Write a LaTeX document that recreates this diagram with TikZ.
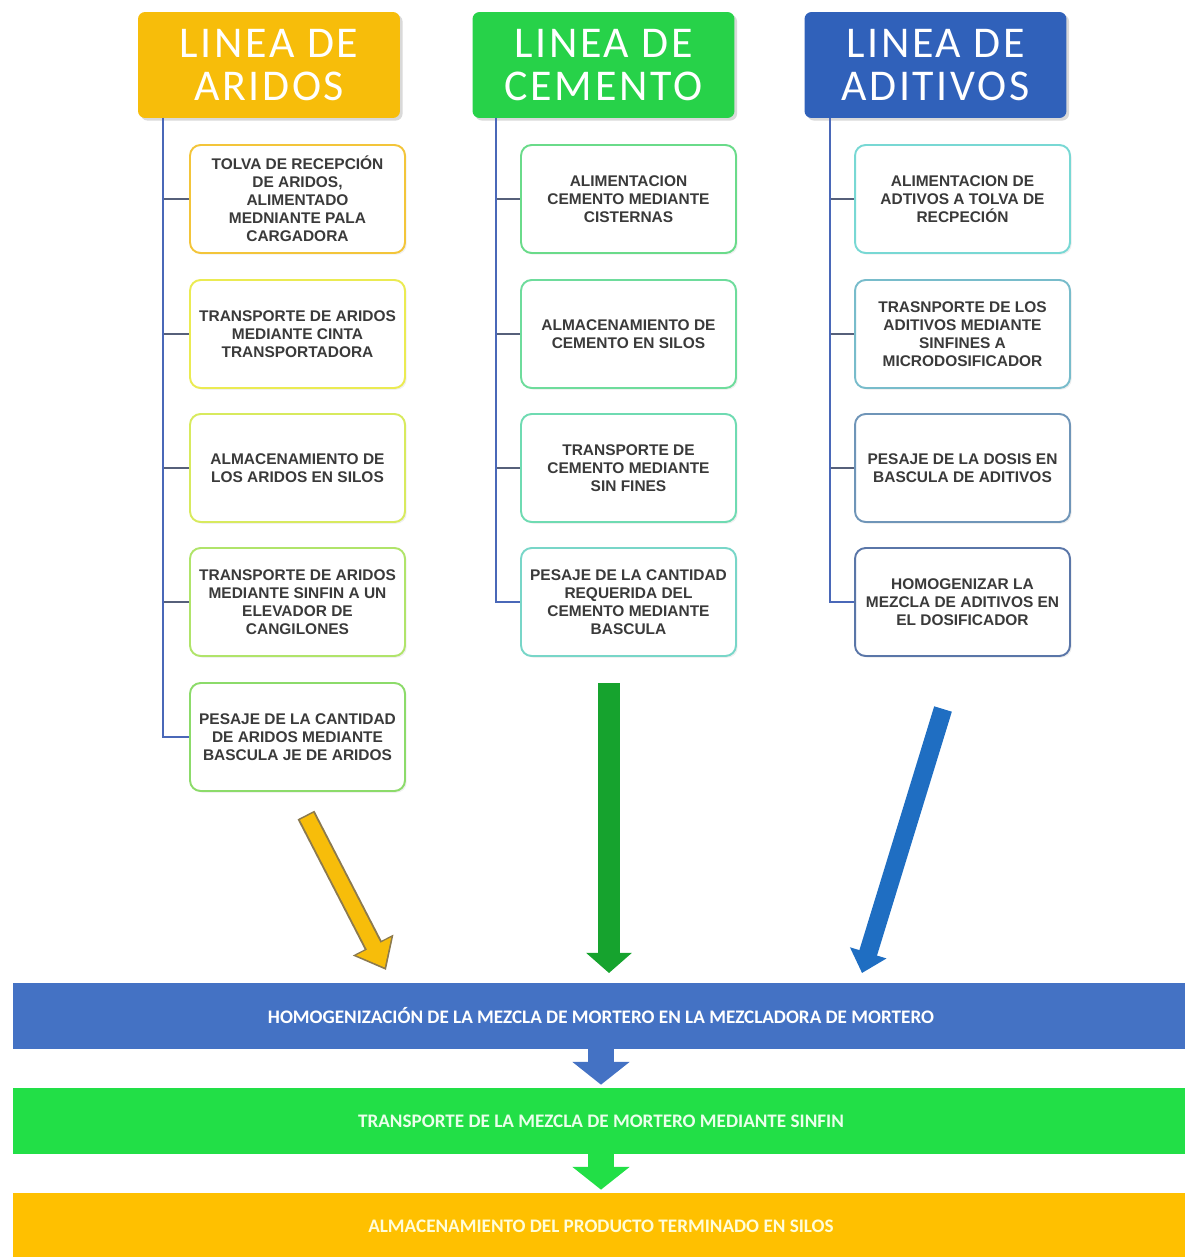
\documentclass[tikz,border=0pt]{standalone}
\usepackage{fontspec}
\setmainfont{Carlito}
\newfontfamily\cajafont{Liberation Sans}
\newfontfamily\titulofont[LetterSpace=6]{Carlito}
\usepackage{xcolor}
\usetikzlibrary{arrows.meta,shadows}

\definecolor{oro}{HTML}{F7BD0A}
\definecolor{oroborde}{HTML}{8C7A4E}
\definecolor{verde}{HTML}{27D249}
\definecolor{verdeosc}{HTML}{16A32E}
\definecolor{azul}{HTML}{3061BA}
\definecolor{azulflecha}{HTML}{1F6EC2}
\definecolor{azulbarra}{HTML}{4472C4}
\definecolor{verdebarra}{HTML}{22DF47}
\definecolor{orobarra}{HTML}{FFC000}
\definecolor{tronco}{HTML}{4A68B8}
\definecolor{rama}{HTML}{56607A}
\definecolor{texto}{HTML}{3A3A3A}
\definecolor{a1c}{HTML}{F3C53A}
\definecolor{a2c}{HTML}{EBEB52}
\definecolor{a3c}{HTML}{D8EA5E}
\definecolor{a4c}{HTML}{B0E46A}
\definecolor{a5c}{HTML}{8CDB6A}
\definecolor{c1c}{HTML}{6ADB8A}
\definecolor{c2c}{HTML}{6EDC9C}
\definecolor{c3c}{HTML}{6FDBB2}
\definecolor{c4c}{HTML}{78D6C8}
\definecolor{d1c}{HTML}{78D8D4}
\definecolor{d2c}{HTML}{78BCCB}
\definecolor{d3c}{HTML}{6F95B8}
\definecolor{d4c}{HTML}{5A76A8}

\begin{document}
\begin{tikzpicture}[x=0.02cm, y=-0.02cm,
  titulo/.style={rounded corners=4pt, minimum width=5.24cm, minimum height=2.12cm, inner sep=0pt, align=center, text=white, font=\titulofont\fontsize{25}{24.5}\selectfont, drop shadow={opacity=.3, shadow xshift=1.5pt, shadow yshift=-1.5pt}},
  paso/.style={draw=#1, fill=white, line width=1.1pt, rounded corners=6pt, minimum width=4.3cm, minimum height=2.16cm, inner sep=1pt, align=center, text=texto, font=\cajafont\bfseries\fontsize{8.8}{10.2}\selectfont, drop shadow={opacity=.12, shadow xshift=1pt, shadow yshift=-1pt}},
  barra/.style={fill=#1, minimum width=23.52cm, minimum height=1.32cm, inner sep=0pt, font=\bfseries\fontsize{10.9}{12}\selectfont},
  tronco/.style={draw=tronco, line width=1.6pt},
  rama/.style={draw=rama, line width=1.1pt}
]
\useasboundingbox (0,0) rectangle (1185,1257);

\node[titulo, fill=oro] (aridos) at (269,65) {LINEA DE\\ARIDOS};
\node[titulo, fill=verde] (cemento) at (603.5,65) {LINEA DE\\CEMENTO};
\node[titulo, fill=azul] (aditivos) at (935.5,65) {LINEA DE\\ADITIVOS};

\node[paso=a1c] (a1) at (297.5,199) {TOLVA DE RECEPCIÓN\\DE ARIDOS,\\ALIMENTADO\\MEDNIANTE PALA\\CARGADORA};
\node[paso=a2c] (a2) at (297.5,334) {TRANSPORTE DE ARIDOS\\MEDIANTE CINTA\\TRANSPORTADORA};
\node[paso=a3c] (a3) at (297.5,468) {ALMACENAMIENTO DE\\LOS ARIDOS EN SILOS};
\node[paso=a4c] (a4) at (297.5,602) {TRANSPORTE DE ARIDOS\\MEDIANTE SINFIN A UN\\ELEVADOR DE\\CANGILONES};
\node[paso=a5c] (a5) at (297.5,737) {PESAJE DE LA CANTIDAD\\DE ARIDOS MEDIANTE\\BASCULA JE DE ARIDOS};

\node[paso=c1c] (c1) at (628.5,199) {ALIMENTACION\\CEMENTO MEDIANTE\\CISTERNAS};
\node[paso=c2c] (c2) at (628.5,334) {ALMACENAMIENTO DE\\CEMENTO EN SILOS};
\node[paso=c3c] (c3) at (628.5,468) {TRANSPORTE DE\\CEMENTO MEDIANTE\\SIN FINES};
\node[paso=c4c] (c4) at (628.5,602) {PESAJE DE LA CANTIDAD\\REQUERIDA DEL\\CEMENTO MEDIANTE\\BASCULA};

\node[paso=d1c] (d1) at (962.5,199) {ALIMENTACION DE\\ADTIVOS A TOLVA DE\\RECPECIÓN};
\node[paso=d2c] (d2) at (962.5,334) {TRASNPORTE DE LOS\\ADITIVOS MEDIANTE\\SINFINES A\\MICRODOSIFICADOR};
\node[paso=d3c] (d3) at (962.5,468) {PESAJE DE LA DOSIS EN\\BASCULA DE ADITIVOS};
\node[paso=d4c] (d4) at (962.5,602) {HOMOGENIZAR LA\\MEZCLA DE ADITIVOS EN\\EL DOSIFICADOR};

\coordinate (ta) at (163,118);
\coordinate (tc) at (496,118);
\coordinate (td) at (830,118);

\draw[rama] (a1.west) -- (a1.west -| ta);
\draw[rama] (a2.west) -- (a2.west -| ta);
\draw[rama] (a3.west) -- (a3.west -| ta);
\draw[rama] (a4.west) -- (a4.west -| ta);
\draw[tronco] (ta) |- (a5.west);

\draw[rama] (c1.west) -- (c1.west -| tc);
\draw[rama] (c2.west) -- (c2.west -| tc);
\draw[rama] (c3.west) -- (c3.west -| tc);
\draw[tronco] (tc) |- (c4.west);

\draw[rama] (d1.west) -- (d1.west -| td);
\draw[rama] (d2.west) -- (d2.west -| td);
\draw[rama] (d3.west) -- (d3.west -| td);
\draw[tronco] (td) |- (d4.west);

\node[barra=azulbarra, text=white] (b1) at (601,1016) {HOMOGENIZACIÓN DE LA MEZCLA DE MORTERO EN LA MEZCLADORA DE MORTERO};
\node[barra=verdebarra, text=green!8] (b2) at (601,1121) {TRANSPORTE DE LA MEZCLA DE MORTERO MEDIANTE SINFIN};
\node[barra=orobarra, text=yellow!15] (b3) at (601,1226) {ALMACENAMIENTO DEL PRODUCTO TERMINADO EN SILOS};

\coordinate (fo1) at (306,815);
\coordinate (fo2) at (386,970);
\coordinate (fv1) at (609,683);
\coordinate (fv2) at (609,973);
\coordinate (fa1) at (943,709);
\coordinate (fa2) at (862,973);

\draw[line width=10.8pt, draw=oroborde, -{Triangle[length=16pt 0 0, width=25pt 0 0]}] (fo1) -- (fo2);
\draw[line width=8.6pt, draw=oro, shorten >=1.6pt, shorten <=0.9pt, -{Triangle[length=13.6pt 0 0, width=21.5pt 0 0]}] (fo1) -- (fo2);
\draw[line width=12pt, draw=verdeosc, -{Triangle[length=11.5pt 0 0, width=25.5pt 0 0]}] (fv1) -- (fv2);
\draw[line width=10.5pt, draw=azulflecha, -{Triangle[length=12pt 0 0, width=21pt 0 0]}] (fa1) -- (fa2);

\draw[line width=15pt, draw=azulbarra, shorten >=1.7pt, shorten <=-1pt, -{Triangle[length=13pt 0 0, width=32pt 0 0]}] (b1.south) -- (b2.north);
\draw[line width=15pt, draw=verdebarra, shorten >=1.7pt, shorten <=-1pt, -{Triangle[length=13pt 0 0, width=32pt 0 0]}] (b2.south) -- (b3.north);

\end{tikzpicture}
\end{document}
